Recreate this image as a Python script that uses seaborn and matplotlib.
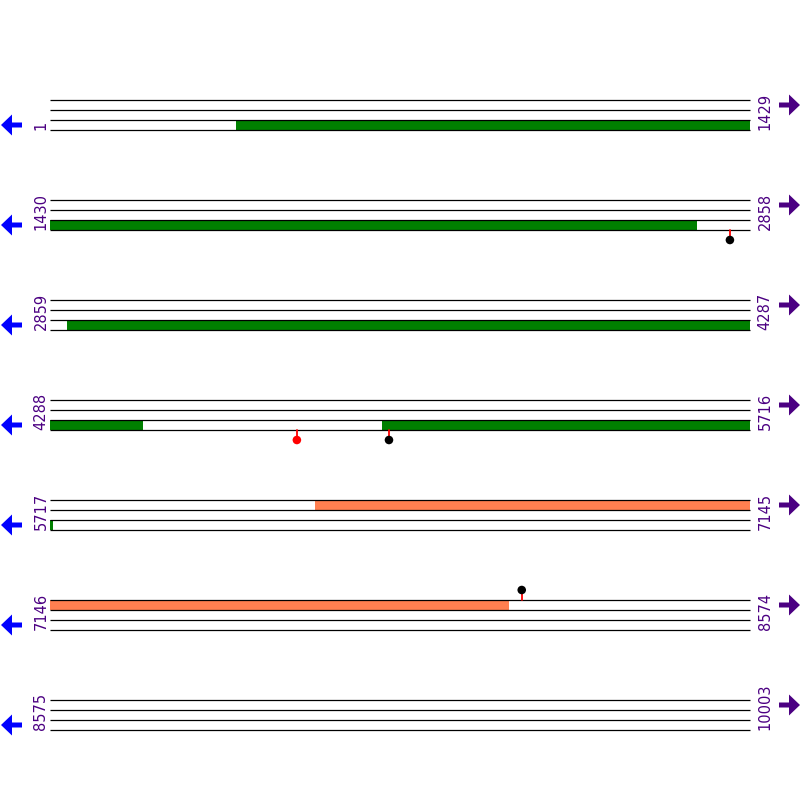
import numpy as np
import pandas as pd
import matplotlib
matplotlib.use("Agg")
import matplotlib.pyplot as plt
import seaborn as sns
from matplotlib.patches import FancyArrow

# sequence layout
seq_len = 10003
row_len = 1429
n_rows = 7

# ORFs: start, end (bp), track (0 = top strip, 2 = third strip), colour
orf_start = [380, 2894, 4966, 6258]
orf_end = [2749, 4476, 5723, 8081]
orf_track = [2, 2, 2, 0]
orf_color = ["#008000", "#008000", "#008000", "#FF7F50"]

# site markers: position (bp), side (1 = below tracks, -1 = above), dot colour
site_pos = [2818, 4792, 4980, 8109]
site_side = [1, 1, 1, -1]
site_color = ["black", "red", "black", "black"]

label_color = "#4B0082"

sns.set_theme(style="white")
plt.rcParams['font.family'] = ['DejaVu Sans']

fig = plt.figure(figsize=(8, 8), dpi=100)
# x in bp within a row, y in "row units" (1 unit = 100 px)
px = row_len / 700.0
ax = fig.add_axes([0, 0, 1, 1])

row_starts = np.arange(n_rows) * row_len + 1
row_ends = np.minimum(row_starts + row_len - 1, seq_len)
row_y = np.arange(n_rows) + 1.0

# strip lines
for y0 in row_y:
    for k in range(4):
        ax.plot([0, row_len], [y0 + 0.1 * k, y0 + 0.1 * k], color="black", lw=0.9, solid_capstyle="butt")

# ORF bars split across rows
for s, e, t, c in zip(orf_start, orf_end, orf_track, orf_color):
    for r in range(n_rows):
        a = max(s, row_starts[r])
        b = min(e, row_ends[r])
        if a > b:
            continue
        x0 = a - row_starts[r]
        x1 = b - row_starts[r] + 1
        ax.barh(row_y[r] + 0.1 * t + 0.05, x1 - x0, left=x0, height=0.1, color=c, linewidth=0)

# lollipop sites
sites = []
for p, side, c in zip(site_pos, site_side, site_color):
    r = (p - 1) // row_len
    x = p - row_starts[r]
    base = row_y[r] + (0.3 if side > 0 else 0.0)
    tip = base + 0.1 * side
    ax.plot([x, x], [base, tip], color="red", lw=1.3)
    sites.append({"x": x, "y": tip, "c": c})
sites = pd.DataFrame(sites)
sns.scatterplot(data=sites, x="x", y="y", hue="c", palette={"black": "black", "red": "red"},
                s=38, edgecolor="none", legend=False, ax=ax, zorder=5)
ax.set_xlim(-50 * px, 750 * px)
ax.set_ylim(8, 0)
ax.axis("off")

# position labels
for r in range(n_rows):
    ax.text(-9 * px, row_y[r] + 0.3, str(row_starts[r]), rotation=90, ha="center", va="bottom",
            color=label_color, fontsize=10.5)
    ax.text(715 * px, row_y[r] + 0.3, str(row_ends[r]), rotation=90, ha="center", va="bottom",
            color=label_color, fontsize=10.5)

# strand arrows in pixel coordinates
ov = fig.add_axes([0, 0, 1, 1])
ov.set_xlim(0, 800)
ov.set_ylim(800, 0)
ov.axis("off")
ov.patch.set_alpha(0)
for r in range(n_rows):
    yc = 100 * row_y[r]
    ov.add_patch(FancyArrow(22, yc + 25, -21, 0, width=5, head_width=21, head_length=11,
                            length_includes_head=True, color="blue", lw=0))
    ov.add_patch(FancyArrow(779, yc + 5, 21, 0, width=5, head_width=21, head_length=11,
                            length_includes_head=True, color=label_color, lw=0))

fig.savefig("out.png", dpi=100, facecolor="white")
